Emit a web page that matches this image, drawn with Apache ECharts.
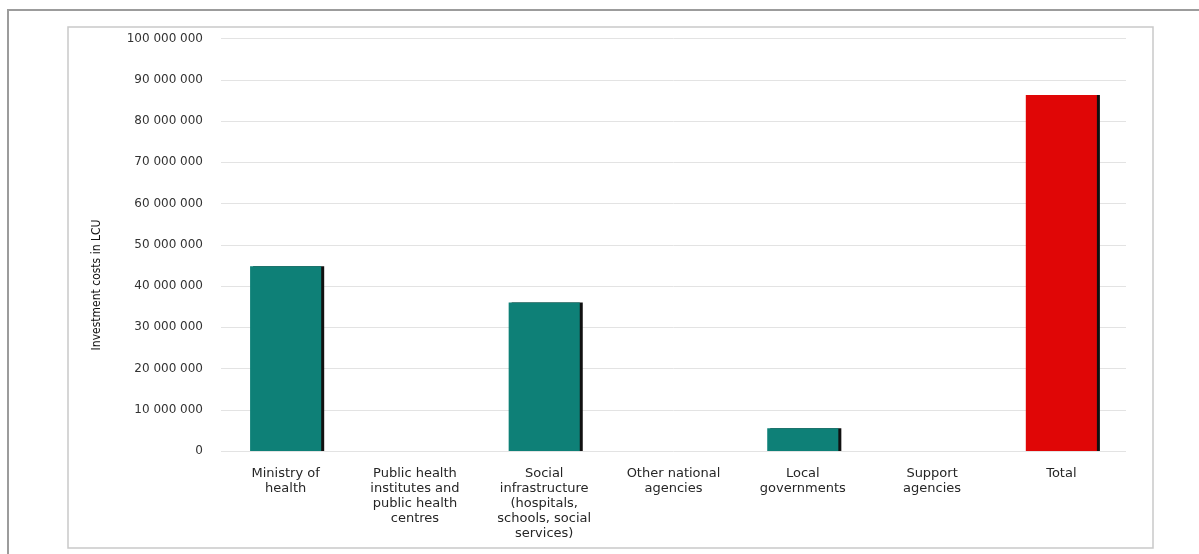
<!DOCTYPE html>
<html>
<head>
<meta charset="utf-8">
<script src="https://cdn.jsdelivr.net/npm/echarts@6/dist/echarts.min.js"></script>
<style>
html,body{margin:0;padding:0;background:#fff;}
#chart{width:1199px;height:554px;}
</style>
</head>
<body>
<div id="chart"></div>
<script>
var categories = [
  "Ministry of\nhealth",
  "Public health\ninstitutes and\npublic health\ncentres",
  "Social\ninfrastructure\n(hospitals,\nschools, social\nservices)",
  "Other national\nagencies",
  "Local\ngovernments",
  "Support\nagencies",
  "Total"
];
var investmentCosts = [44800000, 0, 36000000, 0, 5500000, 0, 86300000];
var barColors = ["#0e8077", "#0e8077", "#0e8077", "#0e8077", "#0e8077", "#0e8077", "#e00606"];
var yTicks = { min: 0, max: 100000000, interval: 10000000 };
var yAxisTitle = "Investment costs in LCU";

function fmt(v) {
  if (v === 0) return "0";
  return String(v).replace(/\B(?=(\d{3})+(?!\d))/g, " ");
}

var chart = echarts.init(document.getElementById('chart'), null, {renderer: 'canvas'});
chart.setOption({
  animation: false,
  backgroundColor: '#ffffff',
  graphic: [
    {type: 'rect', shape: {x: 8, y: 10, width: 1300, height: 700}, style: {fill: 'none', stroke: '#9c9c9c', lineWidth: 2}, z: 0},
    {type: 'rect', shape: {x: 68, y: 27, width: 1085, height: 521}, style: {fill: 'none', stroke: '#c9c9c9', lineWidth: 1.5}, z: 0},
    {type: 'text', x: 97, y: 285, rotation: Math.PI / 2,
      style: {text: yAxisTitle, fill: '#111111', font: '12px "Liberation Sans Narrow", "Arial Narrow", "DejaVu Sans Condensed", sans-serif',
        align: 'center', verticalAlign: 'middle'}, z: 5}
  ],
  grid: {left: 221, right: 73, top: 38.5, bottom: 103, containLabel: false},
  xAxis: {
    type: 'category',
    data: categories,
    axisLine: {show: false},
    axisTick: {show: false},
    axisLabel: {
      interval: 0,
      margin: 15,
      color: '#262626',
      fontFamily: 'DejaVu Sans',
      fontSize: 13,
      lineHeight: 15
    }
  },
  yAxis: {
    type: 'value',
    min: yTicks.min,
    max: yTicks.max,
    interval: yTicks.interval,
    axisLine: {show: false},
    axisTick: {show: false},
    axisLabel: {
      margin: 18,
      color: '#333333',
      fontFamily: 'DejaVu Sans',
      fontSize: 12,
      formatter: fmt
    },
    splitLine: {lineStyle: {color: '#e3e3e3', width: 1}}
  },
  series: [{
    type: 'bar',
    barWidth: '55%',
    data: investmentCosts.map(function (v, i) {
      return {value: v, itemStyle: {color: barColors[i]}};
    }),
    itemStyle: {
      shadowColor: '#111111',
      shadowOffsetX: 3,
      shadowOffsetY: 0,
      shadowBlur: 0
    }
  }]
});
</script>
</body>
</html>
